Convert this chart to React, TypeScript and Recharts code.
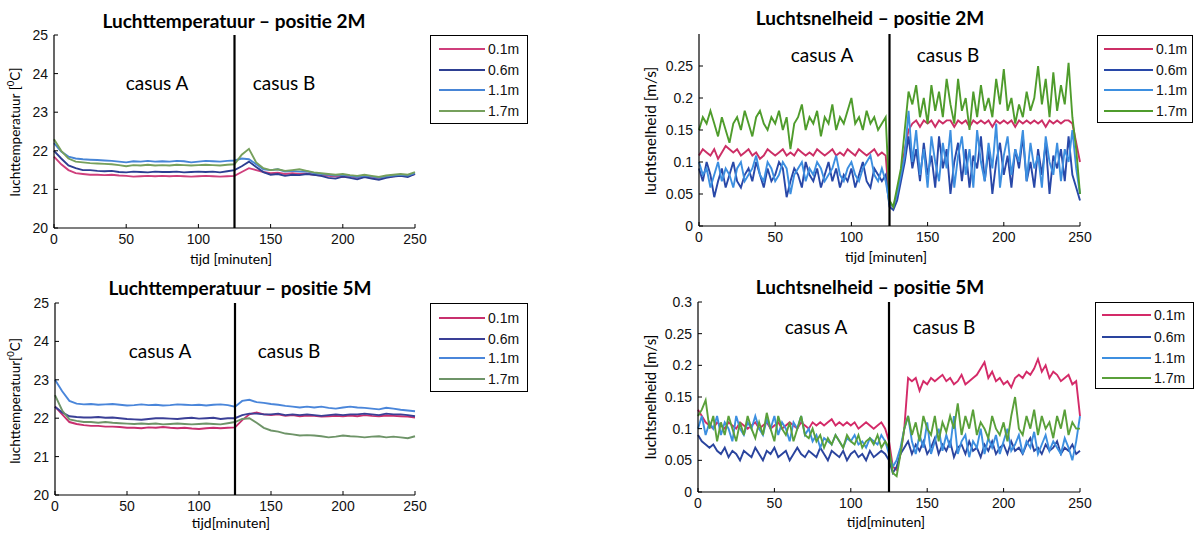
import React from "react";
import { LineChart, Line, XAxis, YAxis, ReferenceLine } from "recharts";

// ----- Data: time axes -----
const timeT = [
  0, 5, 10, 15, 20, 25, 30, 35, 40, 45,
  50, 55, 60, 65, 70, 75, 80, 85, 90, 95,
  100, 105, 110, 115, 120, 125, 130, 135, 140, 145,
  150, 155, 160, 165, 170, 175, 180, 185, 190, 195,
  200, 205, 210, 215, 220, 225, 230, 235, 240, 245,
  250,
];

const timeV = [
  0, 2.5, 5, 7.5, 10, 12.5, 15, 17.5, 20, 22.5,
  25, 27.5, 30, 32.5, 35, 37.5, 40, 42.5, 45, 47.5,
  50, 52.5, 55, 57.5, 60, 62.5, 65, 67.5, 70, 72.5,
  75, 77.5, 80, 82.5, 85, 87.5, 90, 92.5, 95, 97.5,
  100, 102.5, 105, 107.5, 110, 112.5, 115, 117.5, 120, 122.5,
  125, 127.5, 130, 132.5, 135, 137.5, 140, 142.5, 145, 147.5,
  150, 152.5, 155, 157.5, 160, 162.5, 165, 167.5, 170, 172.5,
  175, 177.5, 180, 182.5, 185, 187.5, 190, 192.5, 195, 197.5,
  200, 202.5, 205, 207.5, 210, 212.5, 215, 217.5, 220, 222.5,
  225, 227.5, 230, 232.5, 235, 237.5, 240, 242.5, 245, 247.5,
  250,
];

const heights = ["0.1m", "0.6m", "1.1m", "1.7m"];
const xTicks = [0, 50, 100, 150, 200, 250];
const tempTicks = [20, 21, 22, 23, 24, 25];
const velTicks2M = [0, 0.05, 0.1, 0.15, 0.2, 0.25];
const velTicks5M = [0, 0.05, 0.1, 0.15, 0.2, 0.25, 0.3];

// ----- Luchttemperatuur positie 2M -----
const temp2M_01 = [
  21.85, 21.65, 21.5, 21.42, 21.4, 21.38, 21.38, 21.37, 21.38, 21.36,
  21.35, 21.33, 21.34, 21.35, 21.34, 21.35, 21.34, 21.35, 21.34, 21.33,
  21.34, 21.35, 21.34, 21.33, 21.34, 21.35, 21.45, 21.55, 21.5, 21.45,
  21.42, 21.43, 21.4, 21.42, 21.4, 21.41, 21.38, 21.36, 21.35, 21.33,
  21.32, 21.34, 21.3, 21.33, 21.31, 21.27, 21.32, 21.34, 21.36, 21.35,
  21.4,
];
const temp2M_06 = [
  22.0, 21.8, 21.62, 21.55, 21.5, 21.5, 21.48, 21.47, 21.48, 21.45,
  21.44, 21.46, 21.45, 21.44, 21.46, 21.45, 21.45, 21.46, 21.44, 21.45,
  21.46, 21.45, 21.46, 21.44, 21.47, 21.5, 21.6, 21.72, 21.58, 21.45,
  21.38, 21.4, 21.35, 21.38, 21.37, 21.4, 21.38, 21.35, 21.3, 21.28,
  21.33, 21.3, 21.26, 21.32, 21.28, 21.25, 21.3, 21.33, 21.35, 21.32,
  21.4,
];
const temp2M_11 = [
  22.2, 21.98, 21.85, 21.8, 21.78, 21.77, 21.76, 21.75, 21.74, 21.72,
  21.7, 21.73, 21.72, 21.74, 21.72, 21.73, 21.72, 21.74, 21.73, 21.7,
  21.72, 21.74, 21.73, 21.72, 21.74, 21.75, 21.8, 21.78, 21.65, 21.52,
  21.5, 21.52, 21.46, 21.48, 21.46, 21.47, 21.42, 21.4, 21.38, 21.36,
  21.38, 21.35, 21.32, 21.36, 21.33, 21.3, 21.34, 21.36, 21.38, 21.36,
  21.42,
];
const temp2M_17 = [
  22.3, 22.0, 21.8, 21.72, 21.7, 21.68, 21.67, 21.66, 21.65, 21.63,
  21.6, 21.63, 21.62, 21.64, 21.62, 21.63, 21.62, 21.64, 21.63, 21.62,
  21.63, 21.64, 21.63, 21.62, 21.64, 21.65, 21.9, 22.05, 21.7, 21.55,
  21.5, 21.52, 21.48, 21.5, 21.52, 21.48, 21.44, 21.42, 21.4, 21.38,
  21.4, 21.37, 21.35, 21.38, 21.35, 21.32, 21.36, 21.38, 21.4, 21.38,
  21.45,
];

// ----- Luchttemperatuur positie 5M -----
const temp5M_01 = [
  22.3, 22.1, 21.9, 21.85, 21.82, 21.8, 21.8, 21.78, 21.78, 21.77,
  21.75, 21.75, 21.74, 21.76, 21.75, 21.77, 21.75, 21.74, 21.75, 21.73,
  21.72, 21.74, 21.75, 21.74, 21.75, 21.76, 21.95, 22.1, 22.15, 22.1,
  22.08, 22.1, 22.06, 22.08, 22.05, 22.07, 22.06, 22.04, 22.05, 22.06,
  22.05, 22.07, 22.05, 22.08, 22.06, 22.05, 22.07, 22.06, 22.05, 22.04,
  22.02,
];
const temp5M_06 = [
  22.3, 22.15, 22.05, 22.03, 22.02, 22.02, 22.03, 22.01, 22.02, 22.0,
  21.98, 21.97, 21.96, 21.98, 22.0, 22.0, 21.99, 21.98, 22.0, 22.01,
  21.99, 22.0, 22.01, 21.98, 22.0, 22.0, 22.08, 22.12, 22.12, 22.1,
  22.1, 22.12, 22.08, 22.1, 22.08, 22.1, 22.08, 22.06, 22.08, 22.1,
  22.08, 22.1, 22.1, 22.12, 22.1, 22.08, 22.12, 22.1, 22.1, 22.08,
  22.05,
];
const temp5M_11 = [
  23.0, 22.7, 22.45, 22.38, 22.36, 22.37, 22.35, 22.36, 22.37, 22.35,
  22.33, 22.34, 22.36, 22.34, 22.35, 22.33, 22.34, 22.36, 22.35, 22.34,
  22.35, 22.33, 22.35, 22.36, 22.34, 22.3, 22.45, 22.48, 22.42, 22.4,
  22.37, 22.35, 22.32, 22.3, 22.28, 22.3, 22.28, 22.3, 22.27, 22.25,
  22.28, 22.3, 22.28, 22.27, 22.25, 22.23, 22.27, 22.25, 22.22, 22.2,
  22.18,
];
const temp5M_17 = [
  22.6, 22.2, 21.97, 21.93, 21.9, 21.9, 21.88, 21.9, 21.88, 21.87,
  21.86, 21.85, 21.86, 21.85, 21.86, 21.84, 21.85, 21.86, 21.85, 21.84,
  21.85, 21.86, 21.85, 21.84, 21.87, 21.9, 21.98, 22.0, 21.88, 21.75,
  21.68, 21.65, 21.6, 21.58, 21.55, 21.56, 21.55, 21.53, 21.5, 21.52,
  21.55, 21.53, 21.52, 21.5, 21.52, 21.53, 21.5, 21.52, 21.5, 21.48,
  21.53,
];

// ----- Luchtsnelheid positie 2M -----
const vel2M_01 = [
  0.11, 0.12, 0.115, 0.11, 0.12, 0.105, 0.115, 0.125, 0.12, 0.115,
  0.12, 0.11, 0.115, 0.12, 0.11, 0.115, 0.105, 0.11, 0.12, 0.115,
  0.11, 0.115, 0.12, 0.11, 0.115, 0.11, 0.12, 0.115, 0.11, 0.115,
  0.11, 0.12, 0.115, 0.11, 0.115, 0.12, 0.11, 0.115, 0.11, 0.12,
  0.115, 0.11, 0.12, 0.115, 0.11, 0.115, 0.12, 0.11, 0.115, 0.11,
  0.035, 0.03, 0.05, 0.08, 0.12, 0.15, 0.16, 0.165, 0.155, 0.165,
  0.16, 0.165, 0.155, 0.165, 0.16, 0.165, 0.165, 0.155, 0.165, 0.16,
  0.165, 0.155, 0.165, 0.16, 0.165, 0.16, 0.165, 0.155, 0.165, 0.16,
  0.165, 0.16, 0.165, 0.155, 0.165, 0.16, 0.165, 0.16, 0.165, 0.16,
  0.165, 0.155, 0.165, 0.16, 0.165, 0.16, 0.165, 0.165, 0.16, 0.13,
  0.1,
];
const vel2M_06 = [
  0.09, 0.07, 0.1, 0.08, 0.045, 0.07, 0.09, 0.06, 0.08, 0.1,
  0.07, 0.06, 0.08, 0.09, 0.07, 0.1, 0.08, 0.06, 0.09, 0.07,
  0.08, 0.1, 0.09, 0.045, 0.07, 0.09, 0.08, 0.06, 0.1, 0.08,
  0.07, 0.09, 0.06, 0.08, 0.1, 0.07, 0.09, 0.06, 0.08, 0.07,
  0.09, 0.06, 0.08, 0.1, 0.07, 0.06, 0.09, 0.08, 0.07, 0.08,
  0.03, 0.025, 0.04, 0.07, 0.1, 0.14, 0.09, 0.12, 0.07, 0.13,
  0.08, 0.11, 0.06, 0.14, 0.09, 0.12, 0.05, 0.1, 0.13, 0.07,
  0.12, 0.06, 0.11, 0.09, 0.14, 0.07, 0.12, 0.05, 0.1, 0.13,
  0.08, 0.11, 0.06, 0.12, 0.09, 0.14, 0.07, 0.1, 0.06, 0.12,
  0.08, 0.13, 0.05, 0.11, 0.09, 0.12, 0.07, 0.14, 0.08, 0.06,
  0.04,
];
const vel2M_11 = [
  0.1, 0.08, 0.09, 0.06, 0.08, 0.1, 0.07, 0.09, 0.08, 0.06,
  0.09, 0.1, 0.07, 0.08, 0.09, 0.11, 0.08, 0.07, 0.1, 0.09,
  0.07, 0.08, 0.1, 0.09, 0.05, 0.08, 0.09, 0.1, 0.07, 0.09,
  0.08, 0.1, 0.09, 0.07, 0.08, 0.09, 0.11, 0.08, 0.07, 0.09,
  0.1, 0.08, 0.07, 0.09, 0.1, 0.11, 0.08, 0.07, 0.09, 0.07,
  0.035, 0.03, 0.05, 0.08, 0.11, 0.18, 0.1, 0.15, 0.08, 0.12,
  0.06, 0.14, 0.1, 0.07, 0.13, 0.09, 0.15, 0.06, 0.11, 0.14,
  0.08, 0.12, 0.06, 0.15, 0.1, 0.07, 0.13, 0.09, 0.16, 0.06,
  0.11, 0.14, 0.08, 0.12, 0.1, 0.15, 0.07, 0.13, 0.09, 0.11,
  0.06, 0.14, 0.1, 0.08, 0.13, 0.07, 0.12, 0.1, 0.15, 0.09,
  0.05,
];
const vel2M_17 = [
  0.15, 0.17, 0.16, 0.18, 0.16, 0.14, 0.17, 0.15, 0.13, 0.16,
  0.17, 0.15, 0.18, 0.16, 0.14, 0.17, 0.18, 0.16, 0.15, 0.17,
  0.16, 0.18, 0.15, 0.17, 0.12, 0.16, 0.17, 0.19, 0.15, 0.17,
  0.16, 0.18, 0.14, 0.17, 0.16, 0.19, 0.15, 0.17, 0.16, 0.18,
  0.2, 0.16, 0.17, 0.15, 0.18, 0.16, 0.17, 0.15, 0.16, 0.17,
  0.04, 0.03, 0.06, 0.09, 0.15, 0.21, 0.19, 0.22, 0.17, 0.2,
  0.16, 0.22, 0.18, 0.21, 0.17, 0.23, 0.19, 0.16, 0.23, 0.18,
  0.2, 0.15, 0.21, 0.17, 0.22, 0.18, 0.2, 0.17, 0.23, 0.19,
  0.245, 0.18, 0.2, 0.16, 0.19, 0.17, 0.21, 0.18, 0.2, 0.25,
  0.19, 0.23, 0.17, 0.24, 0.18, 0.22, 0.19, 0.255, 0.17, 0.12,
  0.05,
];

// ----- Luchtsnelheid positie 5M -----
const vel5M_01 = [
  0.13, 0.12, 0.11, 0.105, 0.1, 0.11, 0.105, 0.1, 0.11, 0.105,
  0.1, 0.11, 0.105, 0.1, 0.105, 0.11, 0.1, 0.105, 0.11, 0.1,
  0.105, 0.11, 0.1, 0.105, 0.11, 0.105, 0.1, 0.11, 0.105, 0.1,
  0.11, 0.105, 0.11, 0.105, 0.11, 0.115, 0.105, 0.11, 0.105, 0.11,
  0.105, 0.11, 0.1, 0.105, 0.11, 0.105, 0.1, 0.105, 0.11, 0.1,
  0.08, 0.04, 0.035, 0.06, 0.1, 0.18, 0.175, 0.18, 0.16, 0.175,
  0.17, 0.18, 0.175, 0.18, 0.185, 0.175, 0.18, 0.17, 0.175, 0.185,
  0.17, 0.175, 0.18, 0.185, 0.195, 0.205, 0.18, 0.19, 0.175, 0.18,
  0.17, 0.175, 0.165, 0.18, 0.185, 0.18, 0.19, 0.185, 0.195, 0.21,
  0.19, 0.2, 0.18, 0.19, 0.185, 0.175, 0.18, 0.185, 0.17, 0.175,
  0.12,
];
const vel5M_06 = [
  0.09, 0.08, 0.075, 0.07, 0.075, 0.065, 0.06, 0.07, 0.055, 0.065,
  0.06, 0.05, 0.065, 0.06, 0.055, 0.07, 0.06, 0.05, 0.065, 0.06,
  0.07, 0.055, 0.06, 0.065, 0.05, 0.06, 0.07, 0.06, 0.055, 0.065,
  0.06, 0.055, 0.07, 0.06, 0.05, 0.065, 0.06, 0.055, 0.065, 0.05,
  0.06, 0.065, 0.055, 0.06, 0.05, 0.065, 0.055, 0.06, 0.065, 0.06,
  0.05, 0.03, 0.04, 0.06, 0.07, 0.08, 0.06, 0.075, 0.065, 0.08,
  0.06, 0.07, 0.085, 0.06, 0.075, 0.065, 0.08, 0.055, 0.07, 0.075,
  0.06, 0.08, 0.065, 0.07, 0.055, 0.075, 0.065, 0.08, 0.06, 0.07,
  0.075, 0.06, 0.08, 0.065, 0.07, 0.06, 0.075, 0.085, 0.065, 0.07,
  0.06, 0.075, 0.065, 0.07, 0.08, 0.06, 0.07, 0.065, 0.075, 0.06,
  0.065,
];
const vel5M_11 = [
  0.1, 0.12, 0.09, 0.11, 0.1, 0.12, 0.09, 0.11, 0.1, 0.08,
  0.12, 0.1, 0.09, 0.11, 0.1, 0.12, 0.1, 0.09, 0.115, 0.1,
  0.12, 0.09, 0.11, 0.1, 0.08, 0.11, 0.1, 0.12, 0.09, 0.1,
  0.08, 0.09, 0.07, 0.085, 0.08, 0.075, 0.09, 0.08, 0.07, 0.085,
  0.08, 0.09, 0.075, 0.08, 0.07, 0.085, 0.08, 0.075, 0.09, 0.08,
  0.06, 0.04, 0.05, 0.07, 0.1, 0.12, 0.08, 0.06, 0.09, 0.07,
  0.11, 0.06, 0.08, 0.1, 0.065, 0.09, 0.07, 0.12, 0.06, 0.08,
  0.09, 0.055, 0.08, 0.07, 0.1, 0.06, 0.085, 0.07, 0.09, 0.06,
  0.08, 0.1, 0.065, 0.075, 0.09, 0.06, 0.08, 0.07, 0.095, 0.06,
  0.075, 0.09, 0.065, 0.08, 0.07, 0.06, 0.085, 0.07, 0.05, 0.08,
  0.12,
];
const vel5M_17 = [
  0.12, 0.13, 0.145, 0.1, 0.12, 0.08, 0.11, 0.09, 0.12, 0.1,
  0.08, 0.11, 0.09, 0.12, 0.1, 0.085, 0.11, 0.09, 0.125, 0.1,
  0.08, 0.12, 0.1, 0.09, 0.11, 0.08, 0.1, 0.12, 0.09, 0.085,
  0.1, 0.08, 0.09, 0.07, 0.085, 0.075, 0.09, 0.08, 0.07, 0.09,
  0.08, 0.075, 0.09, 0.07, 0.08, 0.085, 0.075, 0.09, 0.07, 0.08,
  0.07, 0.03, 0.025, 0.06, 0.1, 0.12, 0.09, 0.11, 0.08, 0.12,
  0.1, 0.09, 0.12, 0.08, 0.11, 0.095, 0.12, 0.1, 0.14, 0.09,
  0.12, 0.1, 0.13, 0.09, 0.11, 0.1, 0.085, 0.12, 0.1, 0.09,
  0.11, 0.08, 0.12, 0.15, 0.1, 0.09, 0.12, 0.1, 0.13, 0.09,
  0.12, 0.1, 0.11, 0.085, 0.12, 0.1, 0.13, 0.09, 0.11, 0.1,
  0.1,
];

// ----- Styling -----
const TICK_FONT = "'Liberation Sans', Arial, sans-serif";
const TEXT_FONT = "Lato, 'Open Sans', sans-serif";

// inward MATLAB-style ticks
function BottomTick(p: any) {
  const { x, y, payload } = p;
  return (
    <g>
      <line x1={x} y1={y} x2={x} y2={y - 4} stroke="#000" strokeWidth={1} />
      <text x={x} y={y + 16} textAnchor="middle" fontSize={14} fontFamily={TICK_FONT} fill="#111">
        {payload.value}
      </text>
    </g>
  );
}
function TopTick(p: any) {
  const { x, y } = p;
  return <line x1={x} y1={y} x2={x} y2={y + 4} stroke="#000" strokeWidth={1} />;
}
function LeftTick(p: any) {
  const { x, y, payload } = p;
  return (
    <g>
      <line x1={x} y1={y} x2={x + 4} y2={y} stroke="#000" strokeWidth={1} />
      <text x={x - 6} y={y + 5} textAnchor="end" fontSize={14} fontFamily={TICK_FONT} fill="#111">
        {payload.value}
      </text>
    </g>
  );
}
function RightTick(p: any) {
  const { x, y } = p;
  return <line x1={x} y1={y} x2={x - 4} y2={y} stroke="#000" strokeWidth={1} />;
}

type Panel = {
  title: string;
  yLabel: React.ReactNode;
  yLabelSize: number;
  xLabel: string;
  time: number[];
  series: number[][];
  colors: string[];
  domain: [number, number];
  yTicks: number[];
  chart: { x: number; y: number; w: number; h: number };
  plot: { l: number; t: number; r: number; b: number };
  titlePos: [number, number];
  yLabelPos: [number, number];
  xLabelPos: [number, number];
  casusA: [number, number];
  casusB: [number, number];
  legend: { x: number; y: number; w: number; h: number; rows: number[]; lx1: number; lx2: number; tx: number };
};

const panels: Panel[] = [
  {
    title: "Luchttemperatuur \u2013 positie 2M",
    yLabel: <>luchttemperatuur [<sup style={{ fontSize: "0.7em" }}>0</sup>C]</>,
    yLabelSize: 13.5,
    xLabel: "tijd [minuten]",
    time: timeT,
    series: [temp2M_01, temp2M_06, temp2M_11, temp2M_17],
    colors: ["#cf3f7c", "#2d3f92", "#4785d6", "#76a05c"],
    domain: [20, 25],
    yTicks: tempTicks,
    chart: { x: 0, y: 0, w: 440, h: 270 },
    plot: { l: 54, t: 35, r: 415, b: 228 },
    titlePos: [234, 21],
    yLabelPos: [15, 132],
    xLabelPos: [231, 259],
    casusA: [157, 83],
    casusB: [284, 83],
    legend: { x: 430, y: 35, w: 98, h: 89, rows: [13, 34, 54, 75], lx1: 8, lx2: 54, tx: 57 },
  },
  {
    title: "Luchtsnelheid \u2013 positie 2M",
    yLabel: <>luchtsnelheid [m/s]</>,
    yLabelSize: 15.5,
    xLabel: "tijd [minuten]",
    time: timeV,
    series: [vel2M_01, vel2M_06, vel2M_11, vel2M_17],
    colors: ["#cc2f66", "#2848a8", "#3d8fe0", "#4f9c2c"],
    domain: [0, 0.3],
    yTicks: velTicks2M,
    chart: { x: 600, y: 0, w: 505, h: 270 },
    plot: { l: 699, t: 34, r: 1080, b: 226 },
    titlePos: [870, 18],
    yLabelPos: [651, 131],
    xLabelPos: [886, 257],
    casusA: [822, 55],
    casusB: [948, 55],
    legend: { x: 1097, y: 35, w: 96, h: 88, rows: [13, 34, 54, 75], lx1: 6, lx2: 55, tx: 58 },
  },
  {
    title: "Luchttemperatuur \u2013 positie 5M",
    yLabel: <>luchttemperatuur[<sup style={{ fontSize: "0.7em" }}>0</sup>C]</>,
    yLabelSize: 13.5,
    xLabel: "tijd[minuten]",
    time: timeT,
    series: [temp5M_01, temp5M_06, temp5M_11, temp5M_17],
    colors: ["#c8306e", "#3a3f96", "#4a86da", "#6e9468"],
    domain: [20, 25],
    yTicks: tempTicks,
    chart: { x: 0, y: 270, w: 440, h: 264 },
    plot: { l: 55, t: 303, r: 415, b: 495 },
    titlePos: [240, 288],
    yLabelPos: [15, 401],
    xLabelPos: [231, 523],
    casusA: [160, 351],
    casusB: [289, 351],
    legend: { x: 430, y: 303, w: 98, h: 89, rows: [14, 35, 54, 75], lx1: 8, lx2: 54, tx: 57 },
  },
  {
    title: "Luchtsnelheid \u2013 positie 5M",
    yLabel: <>luchtsnelheid [m/s]</>,
    yLabelSize: 15,
    xLabel: "tijd[minuten]",
    time: timeV,
    series: [vel5M_01, vel5M_06, vel5M_11, vel5M_17],
    colors: ["#d42a68", "#2a449e", "#3d8fe0", "#5aa03a"],
    domain: [0, 0.3],
    yTicks: velTicks5M,
    chart: { x: 600, y: 270, w: 505, h: 264 },
    plot: { l: 698, t: 302, r: 1080, b: 492 },
    titlePos: [870, 287],
    yLabelPos: [651, 397],
    xLabelPos: [886, 522],
    casusA: [816, 327],
    casusB: [944, 327],
    legend: { x: 1095, y: 302, w: 99, h: 87, rows: [12, 34, 55, 75], lx1: 6, lx2: 55, tx: 58 },
  },
];

const abs = (x: number, y: number): React.CSSProperties => ({
  position: "absolute",
  left: x,
  top: y,
  transform: "translate(-50%, -50%)",
  whiteSpace: "nowrap",
  lineHeight: 1.15,
  color: "#000",
});

function PanelView({ p }: { p: Panel }) {
  const rows = p.time.map((t, i) => {
    const r: Record<string, number> = { t };
    p.series.forEach((s, k) => (r["s" + k] = s[i]));
    return r;
  });
  const { chart, plot } = p;
  return (
    <>
      <div style={{ position: "absolute", left: chart.x, top: chart.y }}>
        <LineChart
          width={chart.w}
          height={chart.h}
          data={rows}
          margin={{ top: plot.t - chart.y, right: chart.x + chart.w - plot.r, bottom: 0, left: 0 }}
        >
          <XAxis
            dataKey="t"
            type="number"
            domain={[0, 250]}
            ticks={xTicks}
            interval={0}
            height={chart.y + chart.h - plot.b}
            tickSize={0}
            tickMargin={0}
            tickLine={false}
            axisLine={{ stroke: "#000", strokeWidth: 1.2 }}
            tick={(tp: any) => <BottomTick {...tp} />}
          />
          <XAxis
            xAxisId="top"
            orientation="top"
            dataKey="t"
            type="number"
            domain={[0, 250]}
            ticks={xTicks}
            interval={0}
            height={0}
            tickSize={0}
            tickMargin={0}
            tickLine={false}
            axisLine={{ stroke: "#000", strokeWidth: 1.2 }}
            tick={(tp: any) => <TopTick {...tp} />}
          />
          <YAxis
            type="number"
            domain={p.domain}
            ticks={p.yTicks}
            interval={0}
            width={plot.l - chart.x}
            tickSize={0}
            tickMargin={0}
            tickLine={false}
            axisLine={{ stroke: "#000", strokeWidth: 1.2 }}
            tick={(tp: any) => <LeftTick {...tp} />}
          />
          <YAxis
            yAxisId="right"
            orientation="right"
            type="number"
            domain={p.domain}
            ticks={p.yTicks}
            interval={0}
            width={0}
            tickSize={0}
            tickMargin={0}
            tickLine={false}
            axisLine={{ stroke: "#000", strokeWidth: 1.2 }}
            tick={(tp: any) => <RightTick {...tp} />}
          />
          {p.series.map((_, k) => (
            <Line
              key={k}
              type="linear"
              dataKey={"s" + k}
              stroke={p.colors[k]}
              strokeWidth={1.9}
              dot={false}
              isAnimationActive={false}
            />
          ))}
          <ReferenceLine x={125} stroke="#000" strokeWidth={2.2} />
        </LineChart>
      </div>

      <div style={{ ...abs(p.titlePos[0], p.titlePos[1]), fontFamily: TEXT_FONT, fontWeight: 700, fontSize: 19 }}>
        {p.title}
      </div>
      <div style={{ ...abs(p.casusA[0], p.casusA[1]), fontFamily: TEXT_FONT, fontSize: 19 }}>casus A</div>
      <div style={{ ...abs(p.casusB[0], p.casusB[1]), fontFamily: TEXT_FONT, fontSize: 19 }}>casus B</div>
      <div style={{ ...abs(p.xLabelPos[0], p.xLabelPos[1]), fontFamily: TEXT_FONT, fontSize: 14 }}>{p.xLabel}</div>
      <div
        style={{
          ...abs(p.yLabelPos[0], p.yLabelPos[1]),
          transform: "translate(-50%, -50%) rotate(-90deg)",
          fontFamily: TEXT_FONT,
          fontSize: p.yLabelSize,
        }}
      >
        {p.yLabel}
      </div>

      <div
        style={{
          position: "absolute",
          left: p.legend.x,
          top: p.legend.y,
          width: p.legend.w,
          height: p.legend.h,
          boxSizing: "border-box",
          border: "1.3px solid #000",
          background: "#fff",
        }}
      >
        {heights.map((h, k) => (
          <div key={h} style={{ position: "absolute", left: 0, top: p.legend.rows[k] - 9, height: 18, width: "100%" }}>
            <svg width={p.legend.lx2 + 2} height={18} style={{ position: "absolute", left: 0, top: 0 }}>
              <line x1={p.legend.lx1} y1={9} x2={p.legend.lx2} y2={9} stroke={p.colors[k]} strokeWidth={2} />
            </svg>
            <span
              style={{
                position: "absolute",
                left: p.legend.tx,
                top: 0,
                lineHeight: "18px",
                fontFamily: TICK_FONT,
                fontSize: 14,
                color: "#111",
              }}
            >
              {h}
            </span>
          </div>
        ))}
      </div>
    </>
  );
}

export default function App() {
  return (
    <div style={{ position: "absolute", left: 0, top: 0, width: 1194, height: 534, background: "#fff", overflow: "hidden" }}>
      {panels.map((p, i) => (
        <PanelView key={i} p={p} />
      ))}
    </div>
  );
}
